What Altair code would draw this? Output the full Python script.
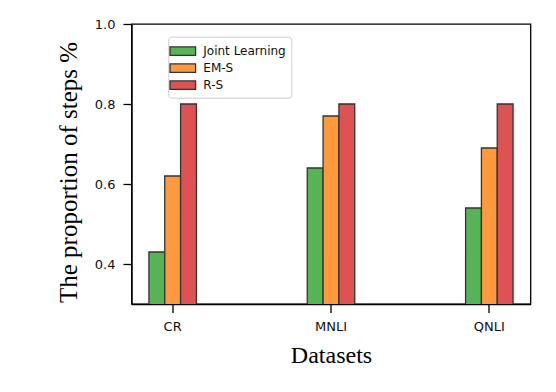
import altair as alt
import pandas as pd

datasets = ["CR", "MNLI", "QNLI"]
methods = ["Joint Learning", "EM-S", "R-S"]
joint_learning = [0.43, 0.64, 0.54]
em_s = [0.62, 0.77, 0.69]
r_s = [0.80, 0.80, 0.80]
colors = ["#56b356", "#ff993e", "#de5253"]
y_ticks = [0.4, 0.6, 0.8, 1.0]

rows = []
for m, vals in zip(methods, [joint_learning, em_s, r_s]):
    for d, v in zip(datasets, vals):
        rows.append({"Dataset": d, "Method": m, "Value": v})
df = pd.DataFrame(rows)

chart = alt.Chart(df).mark_bar(
    stroke="#333333", strokeWidth=1.3, clip=True
).encode(
    x=alt.X("Dataset:N", sort=datasets,
            scale=alt.Scale(paddingInner=0.7, paddingOuter=0.11),
            axis=alt.Axis(title="Datasets", labelAngle=0, titleY=58.7,
                          titleBaseline="alphabetic", labelPadding=8)),
    xOffset=alt.XOffset("Method:N", sort=methods,
                        scale=alt.Scale(paddingInner=0, paddingOuter=0)),
    y=alt.Y("Value:Q",
            scale=alt.Scale(domain=[0.3, 1.0], zero=False, nice=False),
            axis=alt.Axis(title="The proportion of steps %", values=y_ticks,
                          format=".1f", titleX=-55, titleY=148,
                          titleFontSize=25,
                          titleBaseline="alphabetic", titleAngle=-90,
                          labelPadding=8)),
    color=alt.Color("Method:N", sort=methods,
                    scale=alt.Scale(domain=methods, range=colors),
                    legend=alt.Legend(title=None, orient="none",
                                      legendX=36.8, legendY=12.7)),
).properties(
    width=399, height=280,
    autosize=alt.AutoSizeParams(type="none"),
    padding={"left": 123.5, "top": 16, "right": 16, "bottom": 80},
).configure_view(
    stroke="black", strokeWidth=1.3
).configure_axis(
    domainColor="black", domainWidth=1.3,
    tickColor="black", tickWidth=1.3, tickSize=8.5,
    labelFont="DejaVu Sans", labelFontSize=13, labelColor="#111111",
    titleFont="Liberation Serif", titleFontSize=24, titleFontWeight="normal",
    titleColor="black", grid=False,
).configure_legend(
    padding=5, strokeColor="#cccccc", fillColor="white", cornerRadius=3,
    labelFont="DejaVu Sans", labelFontSize=12, labelColor="#111111",
    symbolType="M-1.5,-0.5H1.5V0.5H-1.5Z", symbolSize=290,
    symbolStrokeColor="#333333", symbolStrokeWidth=1.3,
    labelOffset=11, rowPadding=0,
)

chart.save("out.html", embed_options={"renderer": "svg", "actions": False})
